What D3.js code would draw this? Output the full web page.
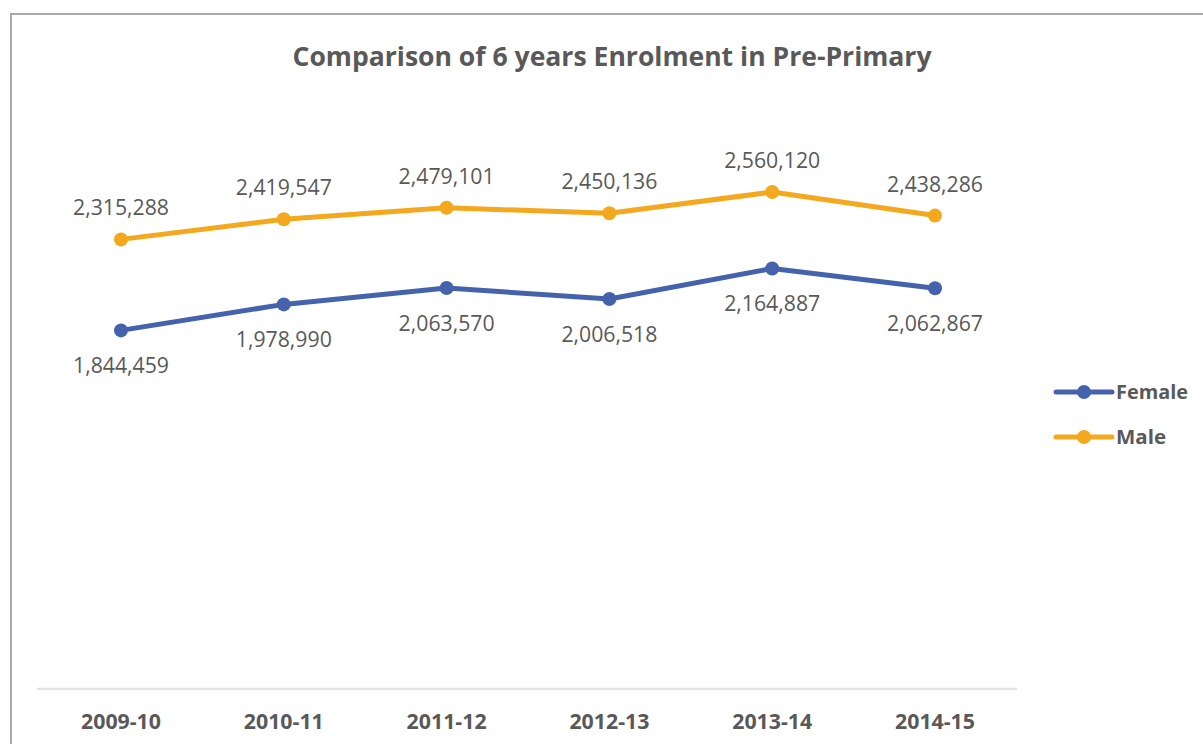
<!DOCTYPE html>
<html>
<head>
<meta charset="utf-8">
<script src="https://cdn.jsdelivr.net/npm/d3@7"></script>
<style>
  html, body { margin: 0; padding: 0; background: #fff; }
  svg text { font-family: "Open Sans", "Noto Sans", sans-serif; fill: #595959; }
</style>
</head>
<body>
<svg id="chart" width="1203" height="744"></svg>
<script>
const years = ["2009-10", "2010-11", "2011-12", "2012-13", "2013-14", "2014-15"];
const female = [1844459, 1978990, 2063570, 2006518, 2164887, 2062867];
const male = [2315288, 2419547, 2479101, 2450136, 2560120, 2438286];
const seriesNames = ["Female", "Male"];
const seriesColors = ["#4563ad", "#f3a81d"];

const svg = d3.select("#chart");

// chart frame (runs off the right and bottom edges)
svg.append("path")
  .attr("d", "M11,760 L11,14 L1220,14")
  .attr("fill", "none")
  .attr("stroke", "#a9a9a9")
  .attr("stroke-width", 2);

const x = d3.scalePoint().domain(years).range([39.6, 1016.4]).padding(0.5);
const y = d3.scaleLinear().domain([0, 3000000]).range([687, 107]);

svg.append("text")
  .attr("x", 612)
  .attr("y", 66)
  .attr("text-anchor", "middle")
  .attr("font-size", 27)
  .attr("font-weight", "bold")
  .attr("textLength", 639)
  .attr("lengthAdjust", "spacingAndGlyphs")
  .text("Comparison of 6 years Enrolment in Pre-Primary");

// category axis
svg.append("line")
  .attr("x1", 37).attr("x2", 1017)
  .attr("y1", y(0) + 2).attr("y2", y(0) + 2)
  .attr("stroke", "#e3e3e3")
  .attr("stroke-width", 2.5);

svg.append("g")
  .selectAll("text")
  .data(years)
  .join("text")
  .attr("x", (d) => x(d))
  .attr("y", 729)
  .attr("text-anchor", "middle")
  .attr("font-size", 22)
  .attr("font-weight", "bold")
  .attr("textLength", 80)
  .attr("lengthAdjust", "spacingAndGlyphs")
  .text((d) => d);

const series = [
  { name: seriesNames[0], color: seriesColors[0], values: female, dy: 43 },
  { name: seriesNames[1], color: seriesColors[1], values: male, dy: -24 },
];

const line = d3.line()
  .x((d, i) => x(years[i]))
  .y((d) => y(d));

const fmt = d3.format(",");

series.forEach((s) => {
  const g = svg.append("g");
  g.append("path")
    .datum(s.values)
    .attr("fill", "none")
    .attr("stroke", s.color)
    .attr("stroke-width", 5)
    .attr("stroke-linejoin", "round")
    .attr("d", line);
  g.selectAll("circle")
    .data(s.values)
    .join("circle")
    .attr("cx", (d, i) => x(years[i]))
    .attr("cy", (d) => y(d))
    .attr("r", 7)
    .attr("fill", s.color);
  g.selectAll("text")
    .data(s.values)
    .join("text")
    .attr("x", (d, i) => x(years[i]))
    .attr("y", (d) => y(d) + s.dy)
    .attr("text-anchor", "middle")
    .attr("font-size", 21)
    .attr("textLength", 96)
    .attr("lengthAdjust", "spacingAndGlyphs")
    .text((d) => fmt(d));
});

// legend
const legend = svg.append("g")
  .selectAll("g")
  .data(series)
  .join("g")
  .attr("transform", (d, i) => `translate(1056,${392 + i * 45})`);
legend.append("line")
  .attr("x1", 0).attr("x2", 56)
  .attr("stroke", (d) => d.color)
  .attr("stroke-width", 5)
  .attr("stroke-linecap", "round");
legend.append("circle")
  .attr("cx", 28)
  .attr("r", 7)
  .attr("fill", (d) => d.color);
legend.append("text")
  .attr("x", 60)
  .attr("y", 7)
  .attr("font-size", 19)
  .attr("font-weight", "bold")
  .attr("textLength", 72)
  .attr("lengthAdjust", "spacingAndGlyphs")
  .text((d) => d.name)
  .attr("textLength", (d, i) => (i === 0 ? 72 : 50));
</script>
</body>
</html>
